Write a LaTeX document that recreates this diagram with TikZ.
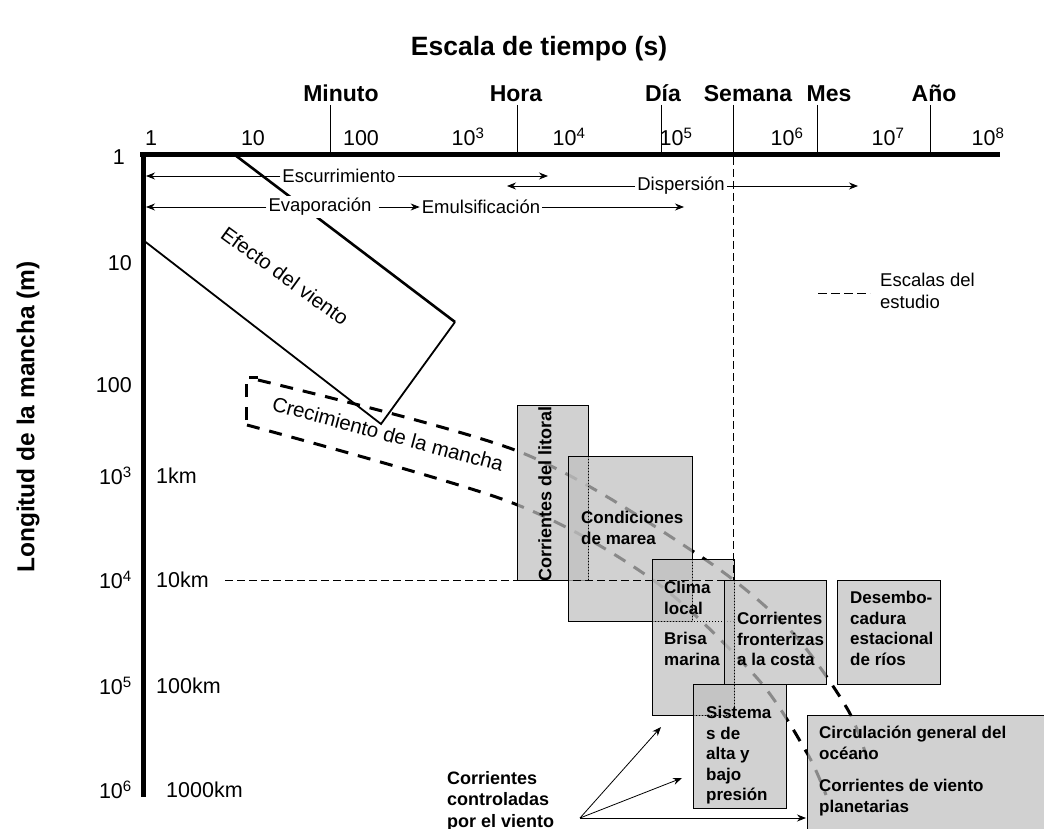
\documentclass[tikz,border=0pt]{standalone}
\usepackage{fontspec}
\setmainfont{Liberation Sans}
\usetikzlibrary{arrows.meta}
\begin{document}
\begin{tikzpicture}[x=1pt,y=-1pt,
  lbl/.style={font=\fontsize{23}{27}\selectfont\bfseries, inner sep=0pt, anchor=base},
  ticklbl/.style={font=\fontsize{21.5}{24}\selectfont, inner sep=0pt, anchor=base},
  ylbl/.style={font=\fontsize{21.5}{24}\selectfont, inner sep=0pt},
  proc/.style={font=\fontsize{18.5}{21}\selectfont, inner sep=2pt, fill=white},
  boxtxt/.style={font=\fontsize{17}{20.5}\selectfont\bfseries, align=left, inner sep=0pt, anchor=north west},
  gbox/.style={draw=black, line width=0.9pt, fill=black!25, fill opacity=0.72},
  band/.style={line width=3pt, dash pattern=on 13pt off 10pt},
  thindash/.style={line width=0.8pt, dash pattern=on 8pt off 4pt},
  hidden/.style={line width=0.8pt, dash pattern=on 1pt off 2pt},
  arr/.style={-{Stealth[length=9pt,width=7pt]}, line width=0.8pt},
  tk/.style={line width=0.8pt}]
\useasboundingbox (0,0) rectangle (1044,829);

% titles
\node[lbl, font=\fontsize{26.5}{30}\selectfont\bfseries] (title) at (539,56) {Escala de tiempo (s)};
\node[inner sep=0pt, font=\fontsize{24.5}{28}\selectfont\bfseries, rotate=90] (ylab) at (28,417) {Longitud de la mancha (m)};

% time names
\node[lbl] (minuto) at (341,102) {Minuto};
\node[lbl] (hora) at (516,102) {Hora};
\node[lbl] (dia) at (663,102) {Día};
\node[lbl] (semana) at (748,102) {Semana};
\node[lbl] (mes) at (829,102) {Mes};
\node[lbl] (anio) at (934,102) {Año};

% tick numbers
\node[ticklbl] (t0) at (151,146) {1};
\node[ticklbl] (t1) at (253,146) {10};
\node[ticklbl] (t2) at (361,146) {100};
\node[ticklbl] (t3) at (468,146) {10\textsuperscript{3}};
\node[ticklbl] (t4) at (569,146) {10\textsuperscript{4}};
\node[ticklbl] (t5) at (676,146) {10\textsuperscript{5}};
\node[ticklbl] (t6) at (787,146) {10\textsuperscript{6}};
\node[ticklbl] (t7) at (888,146) {10\textsuperscript{7}};
\node[ticklbl] (t8) at (988,146) {10\textsuperscript{8}};

% ticks
\foreach \x in {330,517,661,733,817,930} \draw[tk] (\x,105) -- (\x,155);

% y labels
\node[ylbl, anchor=east] (y0) at (125,157) {1};
\node[ylbl, anchor=east] (y1) at (132,263) {10};
\node[ylbl, anchor=east] (y2) at (132,385) {100};
\node[ylbl, anchor=east] (y3) at (132,476) {10\textsuperscript{3}};
\node[ylbl, anchor=east] (y4) at (132,580) {10\textsuperscript{4}};
\node[ylbl, anchor=east] (y5) at (132,686) {10\textsuperscript{5}};
\node[ylbl, anchor=east] (y6) at (132,790) {10\textsuperscript{6}};
\node[ylbl, anchor=west] (k3) at (156,476) {1km};
\node[ylbl, anchor=west] (k4) at (156,580) {10km};
\node[ylbl, anchor=west] (k5) at (156,686) {100km};
\node[ylbl, anchor=west] (k6) at (166,790) {1000km};

% Efecto del viento
\draw[line width=2.6pt] (235,155) -- (455,322);
\draw[line width=1.8pt] (455,322) -- (381,424) -- (143,240);
\node[font=\fontsize{20.5}{24}\selectfont, rotate=-36, inner sep=0pt] (viento) at (285,276) {Efecto del viento};

% Crecimiento band
\draw[band] (246,420) -- (246,377) -- (258,377);
\draw[band] plot[smooth, tension=0.5] coordinates {(258,380) (520,452) (700,556) (790,630) (848,710) (870,768)};
\draw[band] plot[smooth, tension=0.5] coordinates {(247,425) (510,502) (653,580) (757,678) (807,753) (826,795)};
\node[font=\fontsize{20.5}{24}\selectfont, rotate=-15, inner sep=0pt] (crec) at (388,434) {Crecimiento de la mancha};

% boxes
\draw[gbox] (517,405) rectangle (588,580);
\node[font=\fontsize{18}{21}\selectfont\bfseries, rotate=90, inner sep=0pt] (litoral) at (545,494) {Corrientes del litoral};
\draw[gbox] (568,456) rectangle (692,621);
\draw[hidden] (588,456) -- (588,580);
\draw[gbox] (652,559) rectangle (734,715);
\draw[hidden] (692,559) -- (692,621);
\draw[hidden] (652,621) -- (734,621);
\draw[gbox] (724,580) rectangle (826,684);
\draw[gbox] (693,684) rectangle (786,808);
\draw[hidden] (734,580) -- (734,715);
\draw[hidden] (693,715) -- (734,715);
\draw[gbox] (837,580) rectangle (940,684);
\draw[gbox] (807,715) rectangle (1046,835);

% study scale lines
\draw[tk] (733,155) -- (733,105);
\draw[thindash] (733,157) -- (733,580);
\draw[thindash] (225,580) -- (733,580);

% axes
\draw[line width=5pt] (140,155) -- (1000,155);
\draw[line width=5pt] (143,153) -- (143,797);

% process arrows
\node[proc] (escurr) at (339,176) {Escurrimiento};
\coordinate (escL) at (146,176);
\coordinate (escR) at (548,176);
\draw[arr] (escurr.west) -- (escL);
\draw[arr] (escurr.east) -- (escR);
\node[proc] (disp) at (681,186) {Dispersión};
\coordinate (dispL) at (507,186);
\coordinate (dispR) at (858,186);
\draw[arr] (disp.west) -- (dispL);
\draw[arr] (disp.east) -- (dispR);
\node[proc] (evap) at (320,207) {Evaporación};
\coordinate (evapL) at (146,207);
\draw[arr] (evap.west) -- (evapL);
\node[proc] (emul) at (481,207) {Emulsificación};
\draw[arr] ([xshift=5pt]evap.east) -- (emul.west);
\coordinate (emulR) at (684,207);
\draw[arr] (emul.east) -- (emulR);

% box texts
\node[boxtxt] (cond) at (581,511) {Condiciones\\de marea};
\node[boxtxt] (clima) at (664,581) {Clima\\local};
\node[boxtxt] (brisa) at (664,632) {Brisa\\marina};
\node[boxtxt] (front) at (737,612) {Corrientes\\fronterizas\\a la costa};
\node[boxtxt] (desem) at (850,591) {Desembo-\\cadura\\estacional\\de ríos};
\node[boxtxt] (sist) at (706,706) {Sistema\\s de\\alta y\\bajo\\presión};
\node[boxtxt] (circ) at (819,726) {Circulación general del\\océano};
\node[boxtxt] (plan) at (819,779) {Corrientes de viento\\planetarias};

% legend
\draw[line width=1pt, dash pattern=on 9pt off 4pt] (818,293) -- (870,293);
\node[font=\fontsize{18.5}{22}\selectfont, align=left, anchor=north west, inner sep=0pt] (leg) at (880,273) {Escalas del\\estudio};

% wind-driven currents
\node[font=\fontsize{18}{21.5}\selectfont\bfseries, align=left, anchor=north west, inner sep=0pt] (ctrl) at (447,771) {Corrientes\\controladas\\por el viento};
\coordinate (src) at (580,818);
\coordinate (tg1) at (661,727);
\coordinate (tg2) at (682,778);
\coordinate (tg3) at (806,818);
\draw[arr] (src) -- (tg1);
\draw[arr] (src) -- (tg2);
\draw[arr] (src) -- (tg3);
\end{tikzpicture}
\end{document}
